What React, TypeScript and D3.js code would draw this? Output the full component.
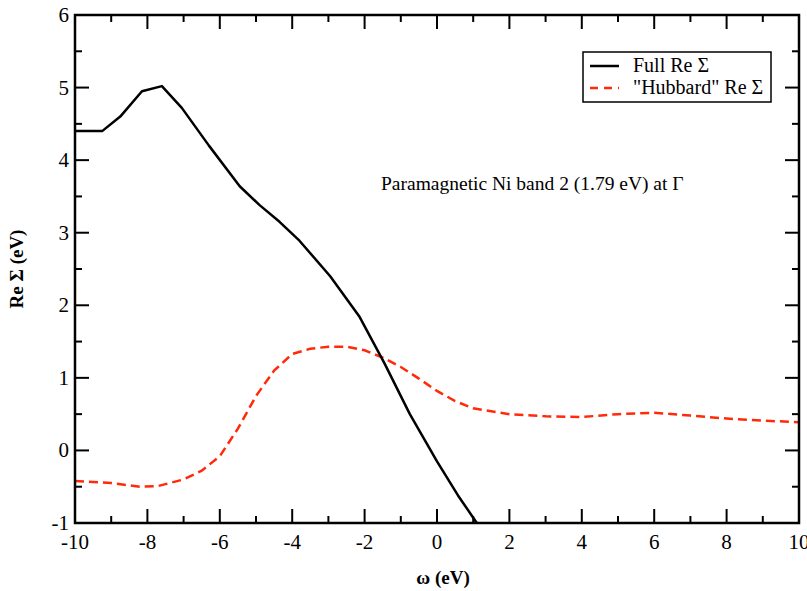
import React from "react";
import * as d3 from "d3";

const fullX = [-10, -9.25, -8.75, -8.15, -7.6, -7.05, -6.3, -5.45, -4.9, -4.35, -3.8, -2.95, -2.15, -1.45, -0.75, 0, 0.58, 1.1];
const fullY = [4.4, 4.4, 4.6, 4.95, 5.02, 4.72, 4.2, 3.64, 3.38, 3.15, 2.89, 2.4, 1.85, 1.2, 0.5, -0.15, -0.62, -1.0];

const hubX = [-10, -9, -8.2, -7.7, -7, -6.5, -6, -5.5, -5, -4.5, -4, -3.5, -3, -2.5, -2, -1.5, -1, -0.5, 0, 0.5, 1, 2, 3, 4, 5, 6, 7, 8, 9, 10];
const hubY = [-0.42, -0.45, -0.5, -0.49, -0.4, -0.28, -0.08, 0.3, 0.75, 1.1, 1.33, 1.4, 1.43, 1.43, 1.38, 1.28, 1.15, 0.99, 0.82, 0.68, 0.58, 0.5, 0.47, 0.46, 0.5, 0.52, 0.48, 0.44, 0.41, 0.39];

const xTicks = [-10, -8, -6, -4, -2, 0, 2, 4, 6, 8, 10];
const yTicks = [-1, 0, 1, 2, 3, 4, 5, 6];

const W = 807, H = 591;
const L = 75, R = 799, T = 15, B = 523;

export default function App() {
  const x = d3.scaleLinear().domain([-10, 10]).range([L, R]);
  const y = d3.scaleLinear().domain([-1, 6]).range([B, T]);
  const line = d3.line<[number, number]>().x(d => x(d[0])).y(d => y(d[1]));
  const fullPts = fullX.map((v, i) => [v, fullY[i]] as [number, number]);
  const hubPts = hubX.map((v, i) => [v, hubY[i]] as [number, number]);
  const xMinor = d3.range(-9, 10, 2);
  const yMinor = d3.range(-0.5, 6, 1);
  const font = "'Liberation Serif', 'DejaVu Serif', serif";
  return (
    <svg width={W} height={H} style={{ position: "absolute", left: 0, top: 0, background: "#fff" }} fontFamily={font}>
      <defs>
        <clipPath id="clip"><rect x={L} y={T} width={R - L} height={B - T} /></clipPath>
      </defs>
      <g clipPath="url(#clip)">
        <path d={line(hubPts) || ""} fill="none" stroke="#ff2a0a" strokeWidth={2.5} strokeDasharray="9,5" />
        <path d={line(fullPts) || ""} fill="none" stroke="#000" strokeWidth={2.5} strokeLinejoin="round" />
      </g>
      {xTicks.map(t => (
        <g key={"xt" + t}>
          <line x1={x(t)} x2={x(t)} y1={B} y2={B - 14} stroke="#000" strokeWidth={2} />
          <line x1={x(t)} x2={x(t)} y1={T} y2={T + 14} stroke="#000" strokeWidth={2} />
          <text x={x(t)} y={549} fontSize={21} textAnchor="middle">{t}</text>
        </g>
      ))}
      {xMinor.map(t => (
        <g key={"xm" + t}>
          <line x1={x(t)} x2={x(t)} y1={B} y2={B - 7} stroke="#000" strokeWidth={2} />
          <line x1={x(t)} x2={x(t)} y1={T} y2={T + 7} stroke="#000" strokeWidth={2} />
        </g>
      ))}
      {yTicks.map(t => (
        <g key={"yt" + t}>
          <line x1={L} x2={L + 14} y1={y(t)} y2={y(t)} stroke="#000" strokeWidth={2} />
          <line x1={R} x2={R - 14} y1={y(t)} y2={y(t)} stroke="#000" strokeWidth={2} />
          <text x={69} y={y(t) + 7} fontSize={21} textAnchor="end">{t}</text>
        </g>
      ))}
      {yMinor.map(t => (
        <g key={"ym" + t}>
          <line x1={L} x2={L + 7} y1={y(t)} y2={y(t)} stroke="#000" strokeWidth={2} />
          <line x1={R} x2={R - 7} y1={y(t)} y2={y(t)} stroke="#000" strokeWidth={2} />
        </g>
      ))}
      <rect x={L} y={T} width={R - L} height={B - T} fill="none" stroke="#000" strokeWidth={2.5} />
      <text x={443} y={584} fontSize={19} fontWeight="bold" textAnchor="middle">ω (eV)</text>
      <text transform={`translate(23,${(T + B) / 2}) rotate(-90)`} fontSize={19} fontWeight="bold" textAnchor="middle">Re Σ (eV)</text>
      <text x={381} y={190} fontSize={19.5}>Paramagnetic Ni band 2 (1.79 eV) at Γ</text>
      <rect x={583} y={52} width={188} height={50} fill="#fff" stroke="#000" strokeWidth={1.5} />
      <line x1={590} x2={619} y1={66} y2={66} stroke="#000" strokeWidth={2.5} />
      <line x1={590} x2={619} y1={88} y2={88} stroke="#ff2a0a" strokeWidth={2.5} strokeDasharray="8,6" />
      <text x={633} y={72} fontSize={20}>Full Re Σ</text>
      <text x={633} y={94} fontSize={20}>"Hubbard" Re Σ</text>
    </svg>
  );
}
